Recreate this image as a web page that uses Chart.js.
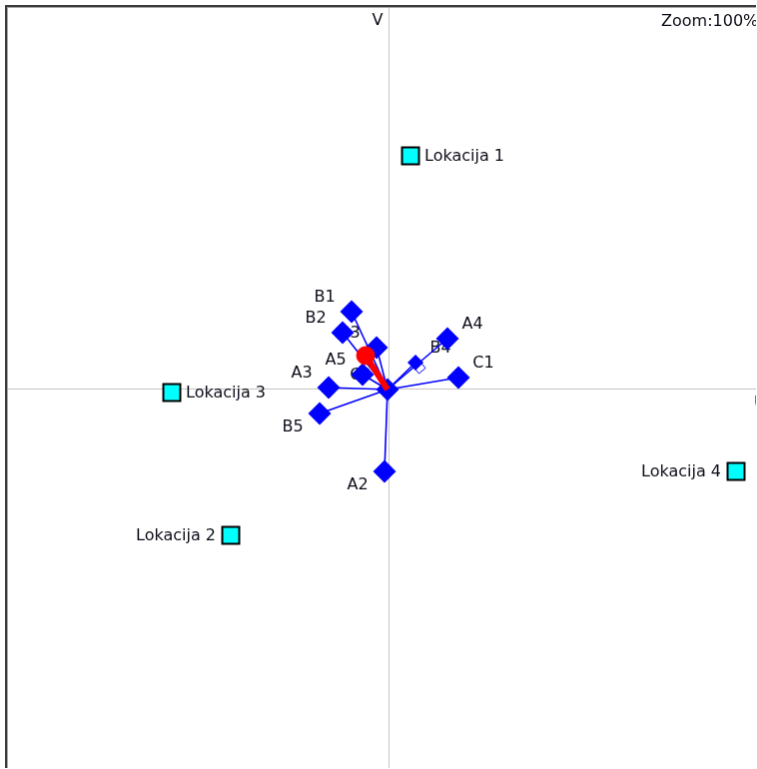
<!DOCTYPE html>
<html>
<head>
<meta charset="utf-8">
<script src="https://cdn.jsdelivr.net/npm/chart.js@4.4.1/dist/chart.umd.min.js"></script>
<style>
    html, body { margin: 0; padding: 0; background: #fff; overflow: hidden; }
    #frame {
        position: absolute; left: 5px; top: 5px;
        border-left: 2px solid #3c3c3c; border-top: 2px solid #3c3c3c;
    }
    #plot {
        display: block;
        border-left: 1px solid #a8a8a8; border-top: 1px solid #a8a8a8;
    }
</style>
</head>
<body>
<div id="frame"><canvas id="plot" width="749" height="761"></canvas></div>
<script>
// Row points (attributes)
const pointNames = ['A2', 'A3', 'A4', 'A5', 'B1', 'B2', 'B3', 'B4', 'B5', 'C1', 'C2'];
const pointX = [-0.04, -0.60, 0.59, -0.26, -0.37, -0.46, -0.12, 0.27, -0.69, 0.70, -0.01];
const pointY = [-0.82, 0.02, 0.51, 0.15, 0.78, 0.57, 0.42, 0.27, -0.24, 0.12, 0.00];

// Column points (locations)
const locNames = ['Lokacija 1', 'Lokacija 2', 'Lokacija 3', 'Lokacija 4'];
const locX = [0.22, -1.58, -2.17, 3.48];
const locY = [2.34, -1.46, -0.03, -0.82];

// Supplementary (red) point and the open marker on the B4 line
const supX = [-0.23];
const supY = [0.34];
const openX = [0.31];
const openY = [0.22];

// axis limits
const xMin = -3.81, xMax = 3.68;
const yMin = -3.79, yMax = 3.82;

const axisNames = ['U', 'V'];
const zoomText = 'Zoom:100%';

const FONT = '16px "DejaVu Sans", sans-serif';
const TEXT = '#0c0c18';
const BLUE = '#0000ff';
const AXIS = '#c4c4c4';

// label placement around a point: [dx, dy]
const offsets = { nw: [-27, -14], ne: [25, -14], sw: [-27, 14] };
const pointDirs = ['sw', 'nw', 'ne', 'nw', 'nw', 'nw', 'nw', 'ne', 'sw', 'ne', 'nw'];
const locRight = [true, false, true, false];

const hub = pointNames.indexOf('C2');

// one thin line from every point to the centre point
const spokes = pointNames
    .map((n, i) => i)
    .filter(i => i !== hub)
    .map(i => ({
        showLine: true,
        data: [{ x: pointX[hub], y: pointY[hub] }, { x: pointX[i], y: pointY[i] }],
        borderColor: BLUE,
        borderWidth: 1.6,
        pointRadius: 0,
        order: 10
    }));

const labelPlugin = {
    id: 'labels',
    beforeDatasetsDraw(chart) {
        const { ctx, chartArea } = chart;
        const xs = chart.scales.x, ys = chart.scales.y;
        ctx.save();
        ctx.font = FONT;
        ctx.fillStyle = TEXT;
        ctx.textBaseline = 'middle';
        ctx.textAlign = 'center';
        pointNames.forEach((n, i) => {
            const [dx, dy] = offsets[pointDirs[i]];
            ctx.fillText(n, xs.getPixelForValue(pointX[i]) + dx, ys.getPixelForValue(pointY[i]) + dy);
        });
        locNames.forEach((n, i) => {
            const px = xs.getPixelForValue(locX[i]);
            const py = ys.getPixelForValue(locY[i]) + 1;
            if (locRight[i]) {
                ctx.textAlign = 'left';
                ctx.fillText(n, px + 14, py);
            } else {
                ctx.textAlign = 'right';
                ctx.fillText(n, px - 15, py);
            }
        });
        // axis names and zoom text
        const x0 = xs.getPixelForValue(0), y0 = ys.getPixelForValue(0);
        ctx.textAlign = 'center';
        ctx.fillText(axisNames[1], x0 - 11, chartArea.top + 13);
        ctx.textAlign = 'left';
        ctx.fillText(axisNames[0], chartArea.right - 2, y0 + 14);
        ctx.fillText(zoomText, chartArea.right - 95, chartArea.top + 14);
        ctx.restore();
    }
};

const gridAtZero = c => (c.tick && c.tick.value === 0 ? AXIS : 'rgba(0,0,0,0)');

new Chart(document.getElementById('plot'), {
    type: 'scatter',
    data: {
        datasets: [
            {
                data: supX.map((v, i) => ({ x: v, y: supY[i] })),
                backgroundColor: '#ff0000',
                borderColor: '#ff0000',
                pointRadius: 9,
                order: 1
            },
            {
                showLine: true,
                data: [{ x: supX[0], y: supY[0] }, { x: pointX[hub], y: pointY[hub] }],
                borderColor: '#ff0000',
                borderWidth: 6,
                pointRadius: 0,
                order: 2
            },
            {
                data: pointX.map((v, i) => ({ x: v, y: pointY[i] })),
                pointStyle: 'rectRot',
                backgroundColor: BLUE,
                borderColor: BLUE,
                borderWidth: 0,
                pointRadius: c => (pointNames[c.dataIndex] === 'B4' ? 8 : 11.5),
                order: 3
            },
            {
                data: openX.map((v, i) => ({ x: v, y: openY[i] })),
                pointStyle: 'rect',
                rotation: -40,
                backgroundColor: '#ffffff',
                borderColor: BLUE,
                borderWidth: 1,
                pointRadius: 6,
                order: 4
            },
            {
                data: locX.map((v, i) => ({ x: v, y: locY[i] })),
                pointStyle: 'rect',
                backgroundColor: '#00ffff',
                borderColor: '#000000',
                borderWidth: 2,
                pointRadius: 12,
                order: 5
            },
            ...spokes
        ]
    },
    options: {
        responsive: false,
        animation: false,
        layout: { padding: 0, autoPadding: false },
        plugins: { legend: { display: false }, tooltip: { enabled: false } },
        scales: {
            x: {
                type: 'linear', min: xMin, max: xMax,
                ticks: { display: false, stepSize: 1 },
                grid: { drawTicks: false, color: gridAtZero, lineWidth: 1 },
                border: { display: false }
            },
            y: {
                type: 'linear', min: yMin, max: yMax,
                ticks: { display: false, stepSize: 1 },
                grid: { drawTicks: false, color: gridAtZero, lineWidth: 1 },
                border: { display: false }
            }
        }
    },
    plugins: [labelPlugin]
});
</script>
</body>
</html>
